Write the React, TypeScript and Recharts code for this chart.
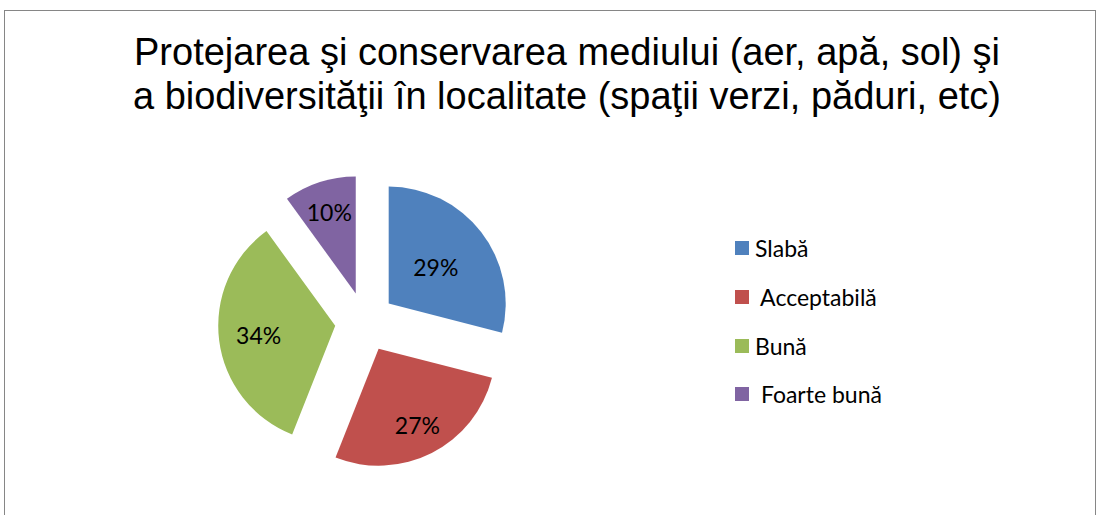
import { PieChart, Pie, Cell, Sector, Legend } from 'recharts'

const categories = ['Slabă', ' Acceptabilă', 'Bună', ' Foarte bună']
const shares = [29, 27, 34, 10]
const COLORS = ['#4F81BD', '#C0504D', '#9BBB59', '#8064A2']
const titleLines = [
  'Protejarea şi conservarea mediului (aer, apă, sol) şi',
  'a biodiversităţii în localitate (spaţii verzi, păduri, etc)'
]

const data = categories.map((name, i) => ({ name, value: shares[i] }))

const RAD = Math.PI / 180
const EXPLODE = 30
// how far in each percentage sits (fraction of the radius), Excel "best fit" style
const LABEL_RADIUS = [0.51, 0.73, 0.66, 0.73]

// pulled-out slice, like the exploded pie in the original
const renderSlice = (props: any) => {
  const { cx, cy, midAngle } = props
  const dx = EXPLODE * Math.cos(-midAngle * RAD)
  const dy = EXPLODE * Math.sin(-midAngle * RAD)
  return <Sector {...props} cx={cx + dx} cy={cy + dy} />
}

const renderLabel = (props: any) => {
  const { cx, cy, midAngle, outerRadius, value, index } = props
  const r = EXPLODE + outerRadius * LABEL_RADIUS[index]
  const x = cx + r * Math.cos(-midAngle * RAD)
  const y = cy + r * Math.sin(-midAngle * RAD)
  return (
    <text x={x} y={y} textAnchor="middle" dominantBaseline="central"
      fill="#000" fontSize={23} fontFamily="Lato, 'Open Sans', sans-serif">
      {`${value}%`}
    </text>
  )
}

const renderLegend = () => (
  <div style={{ fontFamily: "Lato, 'Open Sans', sans-serif", fontSize: 23, color: '#000' }}>
    {data.map((d, i) => (
      <div key={d.name} style={{ display: 'flex', alignItems: 'center', height: 48.7, whiteSpace: 'pre' }}>
        <span style={{ width: 14, height: 14, background: COLORS[i], marginRight: 6, display: 'inline-block' }} />
        <span>{d.name}</span>
      </div>
    ))}
  </div>
)

export default function App() {
  return (
    <div style={{ position: 'absolute', left: 0, top: 0, width: 1101, height: 515, background: '#fff', overflow: 'hidden' }}>
      <div style={{ position: 'absolute', left: 4, top: 10, width: 1092, height: 520, border: '1px solid #868686', boxSizing: 'border-box' }} />
      <div style={{
        position: 'absolute', left: 0, top: 30, width: 1134, textAlign: 'center',
        fontFamily: "'Liberation Sans', Arial, sans-serif", fontSize: 38, lineHeight: '44px', color: '#000'
      }}>
        {titleLines.map(t => <div key={t}>{t}</div>)}
      </div>
      <div style={{ position: 'absolute', left: 0, top: 0 }}>
        <PieChart width={1101} height={515}>
          <Pie
            data={data}
            dataKey="value"
            nameKey="name"
            cx={360}
            cy={317}
            outerRadius={117}
            startAngle={90}
            endAngle={-270}
            stroke="none"
            shape={renderSlice}
            label={renderLabel}
            labelLine={false}
            isAnimationActive={false}
          >
            {data.map((d, i) => <Cell key={d.name} fill={COLORS[i]} />)}
          </Pie>
          <Legend content={renderLegend} wrapperStyle={{ left: 735, top: 224, width: 220 }} />
        </PieChart>
      </div>
    </div>
  )
}
